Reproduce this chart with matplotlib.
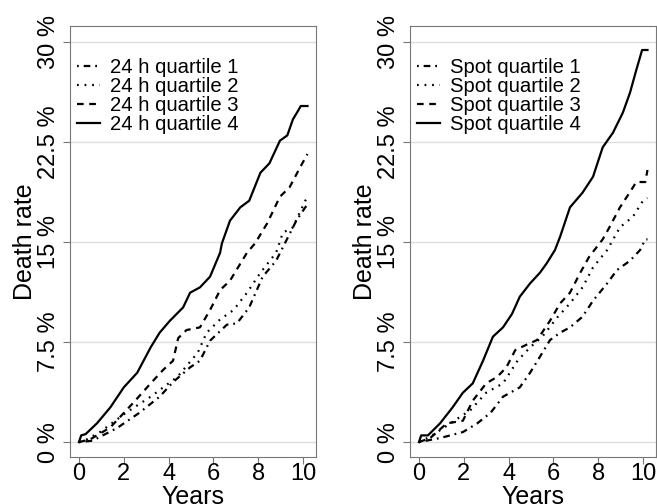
import matplotlib.pyplot as plt

plt.rcParams["font.family"] = ["Liberation Sans", "DejaVu Sans"]

# 24 h panel (years, death rate in %)
h24_q1_t = [0, 0.6, 1.7, 2.7, 3.6, 4.2, 4.96, 5.4, 5.85, 6.6, 7.05, 7.6, 8.2, 8.8, 9.7, 10.1, 10.2]
h24_q1_r = [0, 0.1, 1.05, 2.2, 3.4, 4.5, 5.6, 6.1, 7.6, 8.8, 8.9, 10.1, 12.4, 13.6, 16.6, 17.6, 17.8]
h24_q2_t = [0, 0.35, 0.94, 2.1, 3.2, 4.4, 5.3, 5.7, 6.3, 6.9, 7.5, 8.1, 8.8, 9.1, 9.55, 10.1, 10.2]
h24_q2_r = [0, 0.2, 0.75, 2.2, 3.4, 4.9, 6.7, 8.2, 9.2, 9.9, 11.2, 12.7, 14.2, 15.7, 16.1, 18.1, 18.3]
h24_q3_t = [0, 0.5, 1.4, 2.4, 3.2, 3.75, 4.2, 4.43, 4.8, 5.4, 5.85, 6.3, 6.74, 7.5, 7.86, 8.4, 8.97, 9.4, 9.87, 10.2]
h24_q3_r = [0, 0.2, 1.1, 2.9, 4.4, 5.4, 6.1, 7.8, 8.4, 8.6, 9.9, 11.4, 12.1, 14.2, 14.9, 16.4, 18.4, 19.1, 20.6, 21.6]
h24_q4_t = [0, 0.1, 0.3, 0.8, 1.4, 2.0, 2.6, 3.2, 3.6, 4.06, 4.65, 4.96, 5.4, 5.85, 6.3, 6.38, 6.74, 7.2, 7.6, 8.1,
            8.5, 8.97, 9.3, 9.55, 9.8, 9.9, 10.2]
h24_q4_r = [0, 0.5, 0.6, 1.4, 2.6, 4.1, 5.2, 7.1, 8.2, 9.1, 10.1, 11.2, 11.6, 12.4, 14.2, 14.9, 16.6, 17.6, 18.1, 20.2,
            20.9, 22.6, 23.0, 24.2, 24.9, 25.2, 25.2]

# spot panel
spot_q1_t = [0, 0.94, 1.96, 2.6, 3.2, 3.75, 4.5, 4.96, 5.4, 5.85, 6.3, 6.74, 7.3, 7.77, 8.4, 8.84, 9.42, 9.87, 10.1, 10.2]
spot_q1_r = [0, 0.3, 0.75, 1.4, 2.2, 3.4, 4.1, 5.2, 6.4, 7.65, 8.2, 8.6, 9.4, 10.6, 11.9, 12.9, 13.6, 14.4, 15.2, 15.2]
spot_q2_t = [0, 0.5, 1.4, 2.3, 3.0, 3.75, 4.4, 4.96, 5.5, 6.2, 6.74, 7.3, 7.77, 8.4, 8.97, 9.55, 10.0, 10.2]
spot_q2_r = [0, 0.4, 1.4, 2.4, 3.7, 4.4, 6.1, 7.1, 7.9, 9.4, 10.4, 11.6, 13.1, 14.4, 16.1, 16.9, 18.1, 18.3]
spot_q3_t = [0, 0.5, 1.24, 1.96, 2.4, 3.0, 3.5, 3.9, 4.3, 4.8, 5.27, 5.85, 6.3, 6.74, 7.2, 7.6, 8.2, 8.5, 8.97,
             9.4, 9.7, 10.1, 10.2]
spot_q3_r = [0, 0.3, 1.4, 1.6, 3.1, 4.4, 4.9, 5.6, 6.9, 7.3, 7.65, 9.1, 10.4, 11.2, 12.7, 13.9, 15.2, 16.1, 17.6,
             18.7, 19.5, 19.5, 20.4]
spot_q4_t = [0, 0.1, 0.4, 0.94, 1.5, 1.96, 2.4, 2.86, 3.3, 3.75, 4.15, 4.5, 4.96, 5.4, 5.7, 6.07, 6.3, 6.74, 7.3,
             7.77, 8.2, 8.66, 9.1, 9.42, 9.7, 9.96, 10.2]
spot_q4_r = [0, 0.5, 0.5, 1.4, 2.6, 3.7, 4.4, 6.1, 7.9, 8.6, 9.6, 10.9, 11.9, 12.7, 13.4, 14.4, 15.4, 17.6, 18.7,
             19.9, 22.1, 23.2, 24.7, 26.2, 27.9, 29.4, 29.4]

x_ticks = [0, 2, 4, 6, 8, 10]
y_ticks = [0, 7.5, 15, 22.5, 30]
y_tick_labels = ["0 %", "7.5 %", "15 %", "22.5 %", "30 %"]

styles = [(0, (0.8, 2.2, 3, 2.2)), (0, (0.8, 2.6)), (0, (3, 2.5)), "-"]


def panel(ax, series, prefix):
    for i, (t, r) in enumerate(series):
        ax.plot(t, r, color="black", linewidth=1.6,
                linestyle=styles[i], label=prefix + " quartile " + str(i + 1))
    ax.set_xlim(-0.4, 10.58)
    ax.set_ylim(-1.12, 31.2)
    ax.set_xticks(x_ticks)
    ax.set_yticks(y_ticks)
    ax.set_yticklabels(y_tick_labels, rotation=90, va="center")
    ax.tick_params(labelsize=17, length=5, color="#777777")
    ax.tick_params(axis="x", pad=-1)
    ax.tick_params(axis="y", pad=2)
    ax.grid(axis="y", color="#dddddd", linewidth=1)
    ax.set_axisbelow(True)
    for spine in ax.spines.values():
        spine.set_color("#777777")
    ax.set_xlabel("Years", fontsize=18)
    ax.xaxis.set_label_coords(0.5, -0.066)
    ax.set_ylabel("Death rate", fontsize=18)
    ax.yaxis.set_label_coords(-0.135, 0.5)
    ax.legend(loc="upper left", bbox_to_anchor=(0.03, 0.925), frameon=False, fontsize=14.6,
              handlelength=1.1, handletextpad=0.5, labelspacing=0.0, borderpad=0, borderaxespad=0)


fig = plt.figure(figsize=(6.57, 5.04), dpi=100)
ax1 = fig.add_axes([70 / 657, 47 / 504, 246 / 657, 431 / 504])
ax2 = fig.add_axes([410 / 657, 47 / 504, 246 / 657, 431 / 504])
panel(ax1, [(h24_q1_t, h24_q1_r), (h24_q2_t, h24_q2_r), (h24_q3_t, h24_q3_r), (h24_q4_t, h24_q4_r)], "24 h")
panel(ax2, [(spot_q1_t, spot_q1_r), (spot_q2_t, spot_q2_r), (spot_q3_t, spot_q3_r), (spot_q4_t, spot_q4_r)], "Spot")
fig.savefig("out.png", dpi=100)
